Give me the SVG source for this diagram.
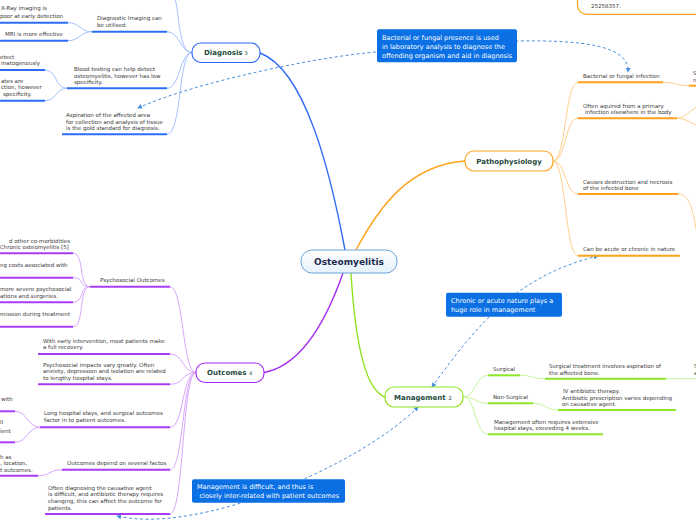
<svg xmlns="http://www.w3.org/2000/svg" width="696" height="520" viewBox="0 0 696 520">
<defs>
<linearGradient id="cg" x1="0" y1="0" x2="0" y2="1"><stop offset="0" stop-color="#ffffff"/><stop offset="1" stop-color="#e6f1fb"/></linearGradient>
<marker id="ar" viewBox="0 0 6 6" markerWidth="5" markerHeight="5" refX="5" refY="3" orient="auto-start-reverse" markerUnits="userSpaceOnUse"><path d="M0,0 L6,3 L0,6 z" fill="#4a8fe0"/></marker>
<style>
text{font-family:"DejaVu Sans","Liberation Sans",sans-serif}
.t{font-size:5.5px;fill:#3a3a3a}
.title{font-size:7px;font-weight:bold;fill:#1d4a3c}
.num{font-size:5px;fill:#1d4a3c}
.cl{font-size:6.5px;fill:#ffffff}
.cbox{fill:#0a70e4}
.dash{fill:none;stroke:#4a8fe0;stroke-width:1;stroke-dasharray:3,2.5}
.lb{fill:none;stroke:#a4c2ff;stroke-width:1}
.ub{stroke:#2e6cf6;stroke-width:2}
.lp{fill:none;stroke:#d9a6fb;stroke-width:1}
.up{stroke:#a93cf5;stroke-width:2}
.lo{fill:none;stroke:#ffcf8c;stroke-width:1}
.uo{stroke:#ffa21a;stroke-width:2}
.lg{fill:none;stroke:#c6f59a;stroke-width:1}
.ug{stroke:#8ee62a;stroke-width:2}
</style>
</defs>
<rect width="696" height="520" fill="#ffffff"/>

<g id="connectors">
<path d="M345 250 C 330 170 305 70 260 53" fill="none" stroke="#2f6af5" stroke-width="1.4"/>
<path d="M356 250 C 380 205 410 165 465 161" fill="none" stroke="#ffa31a" stroke-width="1.4"/>
<path d="M343 273 C 330 310 305 365 264 372.5" fill="none" stroke="#a52cf2" stroke-width="1.4"/>
<path d="M351 273 C 355 340 365 390 385 397" fill="none" stroke="#8de21a" stroke-width="1.4"/>
<path class="lb" d="M192 52.5 C 180 52.5 180 31.7 167 31.7"/>
<path class="lb" d="M192 52.5 C 180 52.5 180 88.3 167 88.3"/>
<path class="lb" d="M192 52.5 C 178 52.5 182 134.3 167 134.3"/>
<path class="lb" d="M192 52.5 C 178 52.5 180 12 174 -5"/>
<path class="lb" d="M92 31.7 C 80 31.7 80 22.7 68 22.7"/>
<path class="lb" d="M92 31.7 C 80 31.7 80 40.7 68 40.7"/>
<path class="lb" d="M67 88.3 C 55 88.3 57 70 45 70"/>
<path class="lb" d="M67 88.3 C 55 88.3 57 100.7 45 100.7"/>
<path class="lp" d="M196 372.5 C 182 372.5 184 286.7 170 286.7"/>
<path class="lp" d="M196 372.5 C 182 372.5 184 354 170 354"/>
<path class="lp" d="M196 372.5 C 182 372.5 184 384.3 170 384.3"/>
<path class="lp" d="M196 372.5 C 182 372.5 184 427.3 170 427.3"/>
<path class="lp" d="M196 372.5 C 182 372.5 184 469.7 170 469.7"/>
<path class="lp" d="M196 372.5 C 182 372.5 184 514 170 514"/>
<path class="lp" d="M90 286.7 C 78 286.7 85 253.3 73 253.3"/>
<path class="lp" d="M90 286.7 C 78 286.7 85 277.7 73 277.7"/>
<path class="lp" d="M90 286.7 C 78 286.7 85 302.3 73 302.3"/>
<path class="lp" d="M90 286.7 C 78 286.7 85 326.7 73 326.7"/>
<path class="lp" d="M40 427.3 C 28 427.3 27 411.3 15 411.3"/>
<path class="lp" d="M40 427.3 C 28 427.3 27 442.3 15 442.3"/>
<path class="lp" d="M62 469.7 C 50 469.7 50 475.7 38 475.7"/>
<path class="lo" d="M553 161 C 566 161 565 82.3 578 82.3"/>
<path class="lo" d="M553 161 C 566 161 565 118.3 578 118.3"/>
<path class="lo" d="M553 161 C 566 161 565 194 578 194"/>
<path class="lo" d="M553 161 C 566 161 565 255.7 578 255.7"/>
<path class="lo" d="M663 82.3 C 676 82.3 676 85.7 689 85.7"/>
<path class="lo" d="M677 118.3 C 687 118.3 690 108 700 106"/>
<path class="lo" d="M677 118.3 C 687 118.3 690 124 700 126"/>
<path class="lo" d="M678 194 C 690 194 693 210 698 240"/>
<path class="lg" d="M463 397 C 476 397 475 375.3 488 375.3"/>
<path class="lg" d="M463 397 C 476 397 475 403.3 488 403.3"/>
<path class="lg" d="M463 397 C 476 397 475 434.3 488 434.3"/>
<path class="lg" d="M520 375.3 C 532 375.3 533 378.7 545 378.7"/>
<path class="lg" d="M666 378.7 L 700 378.7" stroke-width="1.6"/>
<path class="lg" d="M533 403.3 C 545 403.3 546 410 558 410"/>
<path class="dash" d="M138 108 C 200 80 330 55 377 52 L 518 41 C 580 40 630 45 628 72" marker-start="url(#ar)" marker-end="url(#ar)"/>
<path class="dash" d="M598 256 C 520 275 480 320 432 387" marker-start="url(#ar)" marker-end="url(#ar)"/>
<path class="dash" d="M418 407 C 360 465 200 535 117 516" marker-start="url(#ar)" marker-end="url(#ar)"/>
</g>

<g id="central">
<rect x="301" y="250" width="96" height="23" rx="11" fill="url(#cg)" stroke="#6ba3d6" stroke-width="1"/>
<text x="349" y="265" text-anchor="middle" font-size="9" font-weight="bold" fill="#1b2a4e">Osteomyelitis</text>
</g>

<g id="diagnosis">
<rect x="192" y="43" width="68" height="19.5" rx="9" fill="#ffffff" stroke="#2f6af5" stroke-width="1.2"/>
<text x="204" y="55.3" class="title">Diagnosis</text><text x="244.5" y="55.3" class="num">3</text>
</g>
<g id="d-imaging">
<line class="ub" x1="92" y1="31.7" x2="167" y2="31.7"/>
<text class="t" x="97" y="20">Diagnostic Imaging can</text><text class="t" x="97" y="27">be utilised.</text>
</g>
<g id="d-xray">
<line class="ub" x1="0" y1="22.7" x2="68" y2="22.7"/>
<text class="t" x="1" y="10">X-Ray imaging is</text><text class="t" x="0" y="17.5">poor at early detection</text>
</g>
<g id="d-mri">
<line class="ub" x1="0" y1="40.7" x2="68" y2="40.7"/>
<text class="t" x="5" y="35.5">MRI is more effective</text>
</g>
<g id="d-blood">
<line class="ub" x1="67" y1="88.3" x2="167" y2="88.3"/>
<text class="t" x="74" y="71">Blood testing can help detect</text><text class="t" x="74" y="77.5">osteomyelitis, however has low</text><text class="t" x="74" y="84">specificity.</text>
</g>
<g id="d-blood1">
<line class="ub" x1="0" y1="70" x2="45" y2="70"/>
<text class="t" x="0" y="58.5">etect</text><text class="t" x="1" y="65">matogenously</text>
</g>
<g id="d-blood2">
<line class="ub" x1="0" y1="100.7" x2="45" y2="100.7"/>
<text class="t" x="1" y="82.5">ates are</text><text class="t" x="1" y="89.3">ction, however</text><text class="t" x="3" y="96">specificity.</text>
</g>
<g id="d-aspiration">
<line class="ub" x1="62" y1="134.3" x2="167" y2="134.3"/>
<text class="t" x="66" y="117">Aspiration of the affected area</text><text class="t" x="66" y="123.5">for collection and analysis of tissue</text><text class="t" x="66" y="130">is the gold standard for diagnosis.</text>
</g>

<g id="pathophysiology">
<rect x="465" y="151" width="88" height="20" rx="9" fill="#ffffff" stroke="#ffa31a" stroke-width="1.2"/>
<text x="509" y="163.5" text-anchor="middle" class="title">Pathophysiology</text>
</g>
<g id="p-ref">
<rect x="577.5" y="-40" width="140" height="54.3" rx="9" fill="#ffffff" stroke="#ffa31a" stroke-width="1.2"/>
<text class="t" x="591" y="7.5" fill="#2f4f45">25258357.</text>
</g>
<g id="p-bact">
<line class="uo" x1="578" y1="82.3" x2="663" y2="82.3"/>
<text class="t" x="583" y="77.5">Bacterial or fungal infection</text>
</g>
<g id="p-bact1">
<line class="uo" x1="689" y1="85.7" x2="696" y2="85.7"/>
<text class="t" x="693" y="75">S</text><text class="t" x="693" y="82">n</text>
</g>
<g id="p-often">
<line class="uo" x1="578" y1="118.3" x2="677" y2="118.3"/>
<text class="t" x="583" y="107.5">Often aquired from a primary</text><text class="t" x="585" y="114">infection elsewhere in the body</text>
</g>
<g id="p-causes">
<line class="uo" x1="578" y1="194" x2="678" y2="194"/>
<text class="t" x="583" y="184">Causes destruction and necrosis</text><text class="t" x="583" y="190">of the infected bone</text>
</g>
<g id="p-acute">
<line class="uo" x1="578" y1="255.7" x2="680" y2="255.7"/>
<text class="t" x="583" y="251">Can be acute or chronic in nature</text>
</g>

<g id="management">
<rect x="385" y="387" width="78" height="20" rx="9" fill="#ffffff" stroke="#8de21a" stroke-width="1.2"/>
<text x="394" y="399.5" class="title">Management</text><text x="448.5" y="399.5" class="num">2</text>
</g>
<g id="m-surgical">
<line class="ug" x1="488" y1="375.3" x2="520" y2="375.3"/>
<text class="t" x="493" y="371">Surgical</text>
</g>
<g id="m-surgical1">
<line class="ug" x1="545" y1="378.7" x2="666" y2="378.7"/>
<text class="t" x="549" y="368">Surgical treatment involves aspiration of</text><text class="t" x="549" y="375">the affected bone.</text>
</g>
<g id="m-surgical2">
<text class="t" x="694" y="368">S</text><text class="t" x="694" y="375">a</text>
</g>
<g id="m-nonsurgical">
<line class="ug" x1="488" y1="403.3" x2="533" y2="403.3"/>
<text class="t" x="493" y="399">Non-Surgical</text>
</g>
<g id="m-antibiotic">
<line class="ug" x1="558" y1="410" x2="676" y2="410"/>
<text class="t" x="563" y="393">IV antibiotic therapy.</text><text class="t" x="562" y="399.5">Antibiotic prescription varies depending</text><text class="t" x="562" y="406">on causative agent.</text>
</g>
<g id="m-stays">
<line class="ug" x1="488" y1="434.3" x2="603" y2="434.3"/>
<text class="t" x="494" y="424">Management often requires extensive</text><text class="t" x="494" y="430">hospital stays, exceeding 4 weeks.</text>
</g>

<g id="outcomes">
<rect x="196" y="363" width="68" height="19.5" rx="9" fill="#ffffff" stroke="#a52cf2" stroke-width="1.2"/>
<text x="207" y="375.3" class="title">Outcomes</text><text x="249" y="375.3" class="num">4</text>
</g>
<g id="o-psycho">
<line class="up" x1="90" y1="286.7" x2="170" y2="286.7"/>
<text class="t" x="100" y="282">Psychosocial Outcomes</text>
</g>
<g id="o-psycho1">
<line class="up" x1="0" y1="253.3" x2="73" y2="253.3"/>
<text class="t" x="9" y="242.5">d other co-morbidities</text><text class="t" x="0" y="249">Chronic osteomyelitis [5]</text>
</g>
<g id="o-psycho2">
<line class="up" x1="0" y1="277.7" x2="73" y2="277.7"/>
<text class="t" x="0" y="267">ng costs associated with</text>
</g>
<g id="o-psycho3">
<line class="up" x1="0" y1="302.3" x2="73" y2="302.3"/>
<text class="t" x="0" y="291">more severe psychosocial</text><text class="t" x="0" y="297.5">ations and surgeries.</text>
</g>
<g id="o-psycho4">
<line class="up" x1="0" y1="326.7" x2="73" y2="326.7"/>
<text class="t" x="0" y="316">mission during treatment</text>
</g>
<g id="o-early">
<line class="up" x1="38" y1="354" x2="170" y2="354"/>
<text class="t" x="43" y="342.5">With early intervention, most patients make</text><text class="t" x="43" y="348.7">a full recovery.</text>
</g>
<g id="o-impacts">
<line class="up" x1="38" y1="384.3" x2="170" y2="384.3"/>
<text class="t" x="43" y="366.5">Psychosocial impacts vary greatly. Often</text><text class="t" x="43" y="373.3">anxiety, depression and isolation are related</text><text class="t" x="43" y="380">to lengthy hospital stays.</text>
</g>
<g id="o-long">
<line class="up" x1="40" y1="427.3" x2="170" y2="427.3"/>
<text class="t" x="44" y="415.3">Long hospital stays, and surgical outcomes</text><text class="t" x="44" y="422">factor in to patient outcomes.</text>
</g>
<g id="o-long1">
<line class="up" x1="0" y1="411.3" x2="15" y2="411.3"/>
<text class="t" x="1" y="401">with</text>
</g>
<g id="o-long2">
<line class="up" x1="0" y1="442.3" x2="15" y2="442.3"/>
<text class="t" x="0" y="424">ll</text><text class="t" x="0" y="432.5">ient</text>
</g>
<g id="o-depend">
<line class="up" x1="62" y1="469.7" x2="170" y2="469.7"/>
<text class="t" x="67" y="465">Outcomes depend on several factos</text>
</g>
<g id="o-depend1">
<line class="up" x1="0" y1="475.7" x2="38" y2="475.7"/>
<text class="t" x="0" y="458.5">h as</text><text class="t" x="0" y="465">, location,</text><text class="t" x="0" y="471.5">t outcomes.</text>
</g>
<g id="o-diagnosing">
<line class="up" x1="45" y1="514" x2="170" y2="514"/>
<text class="t" x="48" y="489.5">Often diagnosing the causative agent</text><text class="t" x="48" y="496">is difficult, and antibiotic therapy requires</text><text class="t" x="48" y="503">changing, this can affect the outcome for</text><text class="t" x="48" y="509.5">patients.</text>
</g>

<g id="label-bacterial">
<rect class="cbox" x="377" y="29.3" width="140" height="33" rx="2"/>
<text class="cl" x="382" y="39.5">Bacterial or fungal presence is used</text><text class="cl" x="382" y="48.5">in laboratory analysis to diagnose the</text><text class="cl" x="382" y="57.5">offending organism and aid in diagnosis</text>
</g>
<g id="label-chronic">
<rect class="cbox" x="446" y="292.7" width="116" height="24" rx="2"/>
<text class="cl" x="451" y="303">Chronic or acute nature plays a</text><text class="cl" x="451" y="311.8">huge role in management</text>
</g>
<g id="label-management">
<rect class="cbox" x="192" y="479.3" width="153" height="23.5" rx="2"/>
<text class="cl" x="197" y="489">Management is difficult, and thus is</text><text class="cl" x="199.5" y="498">closely inter-related with patient outcomes</text>
</g>
</svg>
